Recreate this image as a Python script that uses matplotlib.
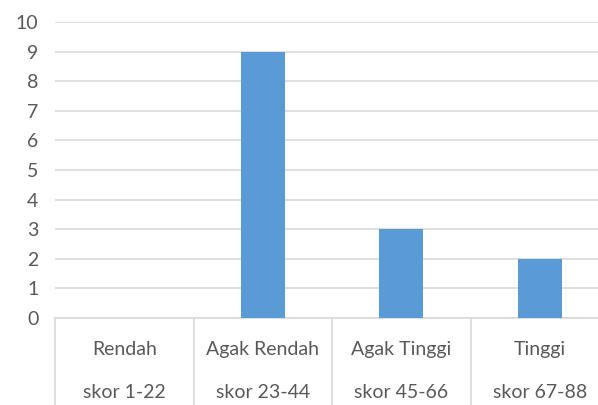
import matplotlib
matplotlib.use("Agg")
import matplotlib.pyplot as plt
import matplotlib.transforms as mtransforms

categories = ["Rendah", "Agak Rendah", "Agak Tinggi", "Tinggi"]
score_ranges = ["skor 1-22", "skor 23-44", "skor 45-66", "skor 67-88"]
counts = [0, 9, 3, 2]
y_ticks = list(range(0, 11))

text_color = "#595959"
grid_color = "#D9D9D9"
bar_color = "#5B9BD5"

plt.rcParams["font.family"] = ["Lato", "DejaVu Sans"]

fig = plt.figure(figsize=(5.98, 4.05), dpi=100)
ax = fig.add_axes([55 / 598, 1 - 318 / 405, 554 / 598, 296 / 405])

x = list(range(len(categories)))
ax.bar(x, counts, width=0.315, color=bar_color, zorder=3)

ax.set_xlim(-0.5, len(categories) - 0.5)
ax.set_ylim(0, 10)
ax.set_yticks(y_ticks)
ax.set_yticklabels([str(v) for v in y_ticks], fontsize=14, color=text_color)
ax.tick_params(axis="y", length=0, pad=12)
ax.set_xticks([])
ax.yaxis.grid(True, color=grid_color, linewidth=1.2, zorder=0)

for side in ["top", "right", "left"]:
    ax.spines[side].set_visible(False)
ax.spines["bottom"].set_color(grid_color)
ax.spines["bottom"].set_linewidth(1.2)

# category separators below the axis
trans = mtransforms.blended_transform_factory(ax.transData, ax.transAxes)
for b in [i - 0.5 for i in range(len(categories) + 1)]:
    ax.plot([b, b], [0, -0.32], transform=trans, color=grid_color,
            linewidth=1.2, clip_on=False)

for i, (name, rng) in enumerate(zip(categories, score_ranges)):
    ax.text(i, -0.108, name, transform=trans, ha="center", va="center",
            fontsize=14, color=text_color)
    ax.text(i, -0.25, rng, transform=trans, ha="center", va="center",
            fontsize=14, color=text_color)

fig.savefig("out.png", dpi=100)
